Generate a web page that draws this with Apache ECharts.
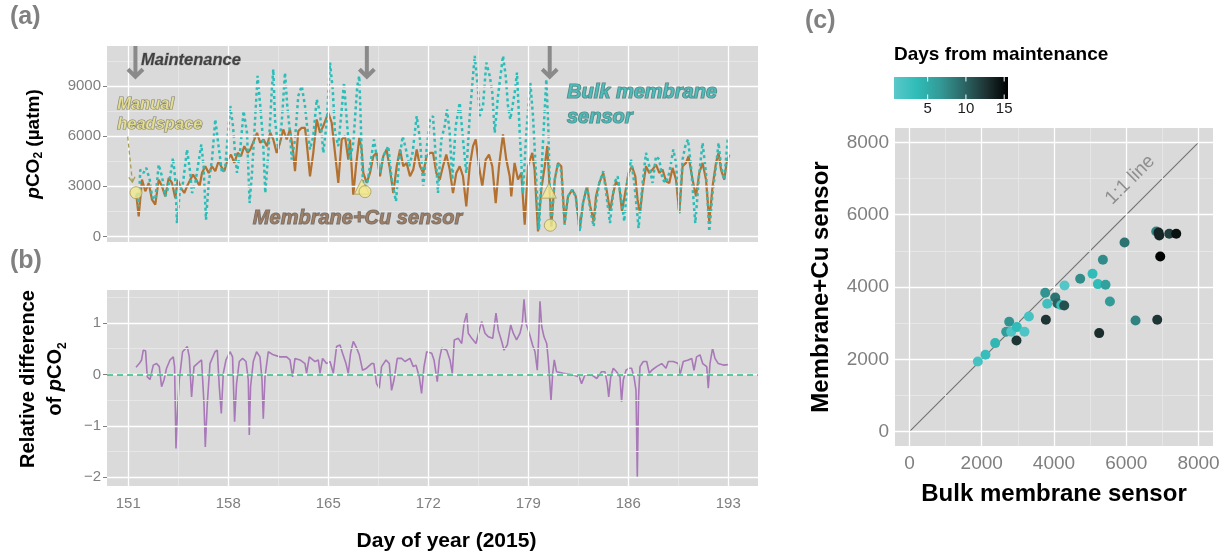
<!DOCTYPE html>
<html><head><meta charset="utf-8">
<script src="https://cdn.jsdelivr.net/npm/echarts@6.0.0/dist/echarts.min.js"></script>
<style>html,body{margin:0;padding:0;background:#fff}#c{width:1223px;height:554px}</style>
</head><body><div id="c"></div>
<script>
// ---------- data ----------
const dayTicks = [151,158,165,172,179,186,193];
const dayMinor = [154.5,161.5,168.5,175.5,182.5,189.5];
const pco2Ticks = [0,3000,6000,9000];
const pco2Minor = [1500,4500,7500,10500];
const diffTicks = [-2,-1,0,1];
const diffMinor = [-1.5,-0.5,0.5,1.5];
const scatTicks = [0,2000,4000,6000,8000];
const scatMinor = [1000,3000,5000,7000];
const cbTicks = [5,10,15];

// Membrane+Cu sensor [day, pCO2]
const cuSeries = [[151.56,2500],[151.73,1200],[151.96,3400],[152.19,2700],[152.43,3200],[152.66,2200],[152.89,1900],[153.13,3400],[153.36,3000],[153.59,2400],[153.83,3500],[154.06,3200],[154.29,2300],[154.46,3400],[154.69,2900],[154.92,2600],[155.11,3000],[155.34,3400],[155.53,3700],[155.76,3400],[155.99,3000],[156.16,3800],[156.39,4200],[156.63,3800],[156.86,4200],[157.09,3900],[157.32,4500],[157.56,4100],[157.72,3900],[157.96,4600],[158.19,4900],[158.42,4400],[158.66,5000],[158.89,4800],[159.12,5400],[159.36,5000],[159.54,5200],[159.78,5700],[160.01,6200],[160.24,5600],[160.47,5800],[160.71,5400],[160.94,6200],
[161.15,5800],[161.39,5000],[161.62,5600],[161.85,6400],[162.09,5800],[162.32,6400],[162.55,5000],[162.67,3900],[162.90,6300],[163.14,6500],[163.37,6500],[163.49,5600],[163.72,3600],[163.95,5000],[164.19,7000],[164.42,6200],[164.65,6600],[165.00,7400],[165.24,6800],[165.47,5000],[165.70,3200],[165.94,5800],[166.17,6000],[166.40,4600],[166.52,5800],[166.75,2500],[166.94,4200],[167.17,5900],[167.34,5200],[167.45,3800],[167.69,3200],[167.92,3800],[168.15,4800],[168.38,5000],[168.62,3600],[168.85,4800],[169.08,5200],[169.32,4000],[169.55,2600],[169.79,4200],[170.02,5200],[170.25,4200],[170.48,4400],[170.72,3600],[170.95,4000],[171.19,5200],[171.42,4200],[171.65,3800],[171.88,4800],[172.12,5000],
[172.33,5000],[172.56,3800],[172.80,3400],[173.03,4200],[173.26,4900],[173.50,4000],[173.73,2600],[173.96,3800],[174.20,4200],[174.43,3600],[174.66,1800],[174.90,4200],[175.13,5400],[175.32,5800],[175.55,4200],[175.78,3000],[176.02,4600],[176.25,4900],[176.48,4200],[176.72,2000],[176.95,4200],[177.23,6100],[177.46,4600],[177.70,3600],[177.81,2400],[178.04,4400],[178.28,3400],[178.51,3800],[178.75,700],[178.98,4200],[179.28,5000],[179.44,4000],[179.68,300],[179.91,2800],[180.15,4200],[180.33,5400],[180.45,3600],[180.61,600],[180.85,3400],[181.08,4400],[181.31,4200],[181.54,800],[181.78,2400],[182.08,2800],[182.32,2400],[182.60,400],[182.83,2000],[183.11,3000],[183.34,1800],[183.58,900],
[183.74,2400],[183.97,3200],[184.25,3800],[184.48,2800],[184.72,1500],[184.90,2400],[185.14,3300],[185.37,3000],[185.56,1500],[185.74,2400],[186.02,3800],[186.26,4200],[186.49,3600],[186.65,2200],[186.82,1400],[187.00,2800],[187.24,4200],[187.47,3800],[187.70,4000],[187.94,4300],[188.17,3800],[188.40,4000],[188.64,3300],[188.87,3200],[189.10,4100],[189.34,3400],[189.57,1400],[189.80,4200],[190.04,4400],[190.22,4800],[190.50,3400],[190.74,2400],[190.97,3800],[191.20,4400],[191.44,3400],[191.67,900],[191.90,3000],[192.14,4400],[192.32,5000],[192.49,4000],[192.72,3400],[192.88,4400],[193.07,4900]];

// Bulk membrane sensor [day, pCO2]
const bulkSeries = [[151.62,2600],[151.73,1800],[151.84,4000],[152.07,3800],[152.26,4100],[152.50,3400],[152.66,2400],[152.89,2200],[153.13,4300],[153.36,3600],[153.59,2400],[153.83,3000],[154.13,4700],[154.29,3400],[154.41,800],[154.60,2600],[154.83,3200],[155.11,5200],[155.34,3800],[155.46,2600],[155.69,3200],[156.11,5500],[156.27,4200],[156.44,1000],[156.63,3200],[156.86,4600],[157.09,7000],[157.32,5400],[157.56,3800],[157.79,4200],[158.14,7800],[158.33,6600],[158.49,4800],[158.61,3800],[158.84,5200],[159.07,7500],[159.31,6200],[159.49,2000],[159.66,3800],[159.89,7200],[160.05,9600],[160.24,7800],[160.43,5800],[160.59,2600],[160.82,5200],[161.05,8800],
[161.15,10000],[161.27,7000],[161.50,5200],[161.74,6800],[161.97,9800],[162.13,7800],[162.32,6200],[162.44,4600],[162.67,5800],[162.90,8400],[163.14,9000],[163.37,7800],[163.49,6800],[163.72,5200],[163.95,6000],[164.19,8200],[164.42,7400],[164.65,5000],[164.89,6800],[165.12,10400],[165.31,8800],[165.47,6200],[165.70,5400],[165.94,7600],[166.10,9200],[166.29,7000],[166.52,4600],[166.75,5600],[167.03,9000],[167.17,9600],[167.27,7000],[167.36,4200],[167.45,3100],[167.69,3000],[167.92,4200],[168.20,5800],[168.38,4800],[168.62,3800],[168.85,4800],[169.20,5400],[169.44,3400],[169.74,2100],[169.97,4600],[170.21,6000],[170.44,5200],[170.67,4200],[170.90,5000],[171.19,7200],[171.42,5800],[171.65,3000],[171.88,5200],[172.12,7000],
[172.33,7200],[172.52,4800],[172.68,2600],[172.91,5800],[173.15,6600],[173.31,7600],[173.50,6200],[173.68,3400],[173.92,6600],[174.20,8000],[174.43,5800],[174.66,3800],[174.90,7200],[175.13,9600],[175.25,10800],[175.48,8800],[175.60,7200],[175.83,7800],[176.06,10400],[176.30,9600],[176.48,8600],[176.65,6200],[176.88,8400],[177.23,10800],[177.42,9600],[177.58,7800],[177.74,7000],[178.05,8600],[178.21,9800],[178.40,6200],[178.63,2600],[178.86,6200],[179.14,9200],[179.33,7200],[179.56,3400],[179.75,400],[179.98,4800],[180.26,9400],[180.40,6600],[180.50,3200],[180.61,600],
[180.85,3400],[181.08,4400],[181.31,3900],[181.54,700],[181.78,2400],[182.08,2800],[182.32,2400],[182.60,300],[182.83,2000],[183.11,3000],[183.34,1600],[183.58,600],
[183.74,2000],[183.97,3200],[184.25,3900],[184.48,2400],[184.72,800],[185.02,3200],[185.25,3600],[185.49,2400],[185.72,900],[185.95,3400],[186.19,4600],[186.42,3200],[186.58,1800],[186.72,500],[187.00,3200],[187.24,5000],[187.47,4200],[187.70,3200],[187.94,4800],[188.17,4600],[188.40,3400],[188.64,3200],[188.87,3800],[189.15,5200],[189.34,4400],[189.57,1400],[189.80,4600],[189.99,5400],[190.18,5800],[190.39,4200],[190.69,800],[190.97,3800],[191.20,5600],[191.44,3800],[191.67,300],[191.90,2600],[192.14,4200],[192.32,5600],[192.49,4200],[192.72,3400],[192.96,5800]];

// Relative difference of pCO2 [day, value]
const relDiff = [[151.54,0.14],[151.77,0.21],[151.93,0.28],[152.05,0.47],[152.21,0.46],[152.33,-0.05],[152.52,-0.10],[152.75,0.18],[152.98,0.21],[153.17,0.15],[153.33,-0.24],[153.50,-0.11],[153.68,0.12],[153.92,0.28],[154.15,0.34],[154.24,0.15],[154.34,-1.44],[154.43,-0.76],[154.57,-0.11],[154.80,0.44],[155.13,0.54],[155.27,0.34],[155.43,-0.44],[155.60,0.15],[155.83,0.21],[156.13,0.28],[156.30,-0.57],[156.39,-1.41],[156.53,-0.57],[156.72,0.21],[157.07,0.44],[157.23,0.47],[157.37,-0.24],[157.51,-0.76],[157.65,0.02],[157.84,0.28],[158.12,0.44],[158.30,0.34],[158.44,-0.92],[158.58,-0.18],[158.77,0.25],[159.00,0.31],[159.24,0.25],[159.40,-0.11],[159.47,-1.18],[159.56,-0.24],[159.75,0.25],[159.98,0.44],[160.22,0.34],[160.36,-0.11],[160.45,-0.86],[160.57,-0.05],[160.80,0.44],[161.15,0.38],[161.62,0.34],[162.08,0.34],[162.32,0.28],[162.50,-0.05],[162.67,0.31],[163.02,0.28],[163.37,0.21],[163.48,0.02],[163.67,0.34],[164.07,0.25],[164.30,0.28],[164.42,0.02],[164.60,0.31],[164.88,0.21],[165.12,0.25],[165.35,0.02],[165.58,0.54],[165.82,0.57],[166.00,0.41],[166.24,0.21],[166.40,0.02],[166.56,0.41],[166.75,0.64],[166.94,0.54],[167.17,0.38],[167.40,0.08],[167.68,0.12],[168.03,0.21],[168.19,0.21],[168.38,-0.18],[168.57,-0.27],[168.73,0.15],[169.04,0.28],[169.27,0.21],[169.43,-0.31],[169.60,-0.11],[169.83,0.31],[170.13,0.31],[170.37,0.25],[170.72,0.31],[170.95,0.15],[171.14,0.18],[171.37,-0.05],[171.53,-0.37],[171.70,0.15],[171.89,0.44],[172.24,0.41],[172.40,0.28],[172.54,0.02],[172.63,-0.14],[172.77,0.28],[172.94,0.51],[173.29,0.47],[173.52,0.28],[173.68,0.02],[173.82,0.67],[174.10,0.70],[174.34,0.60],[174.50,0.99],[174.69,1.19],[174.80,0.80],[175.04,0.70],[175.34,0.60],[175.57,0.86],[175.74,1.03],[175.97,0.80],[176.20,0.73],[176.51,0.70],[176.74,1.19],[176.90,0.86],[177.14,0.64],[177.30,0.47],[177.53,0.57],[177.77,0.96],[177.95,0.80],[178.18,0.67],[178.42,0.80],[178.58,0.99],[178.70,1.46],[178.84,0.99],[179.07,0.80],[179.30,0.57],[179.47,0.44],[179.63,0.08],[179.72,0.67],[179.82,1.42],[179.94,0.93],[180.10,0.73],[180.29,0.60],[180.40,0.28],[180.52,0.28],[180.59,-0.50],[180.71,0.02],[180.82,0.28],[180.98,0.05],[181.45,0.02],[182.15,-0.01],[182.57,-0.05],[182.73,-0.18],[182.97,-0.01],[183.44,-0.01],[183.79,-0.08],[184.13,0.05],[184.37,0.05],[184.53,-0.18],[184.63,-0.44],[184.77,-0.05],[184.95,0.12],[185.18,0.05],[185.42,-0.05],[185.53,-0.53],[185.65,-0.11],[185.84,0.08],[186.07,0.12],[186.23,0.12],[186.40,-0.05],[186.54,-0.31],[186.63,-2.0],[186.72,-0.44],[186.82,0.15],[187.05,0.25],[187.29,0.25],[187.47,0.02],[187.64,0.08],[187.98,0.15],[188.34,0.21],[188.64,0.12],[188.80,0.25],[189.15,0.25],[189.50,0.21],[189.62,-0.01],[189.85,0.25],[190.20,0.28],[190.44,0.31],[190.60,0.08],[190.78,0.34],[191.02,0.38],[191.21,0.21],[191.49,0.15],[191.60,-0.27],[191.72,0.21],[191.90,0.51],[192.07,0.31],[192.30,0.21],[192.65,0.18],[193.00,0.19]];

// maintenance arrows [day, top pCO2, tip pCO2]
const maintenance = [[151.5,11390,9460],[167.7,11390,9460],[180.5,11390,9460]];
// manual headspace measurements
const headCircles = [[151.54,2620],[167.57,2680],[180.54,670]];
const headTriangles = [[167.35,2980],[180.44,2740]];
const headArrow = [[150.96,5968,151.29,3250]];

// scatter: [bulk, membrane+Cu, days from maintenance]
const scatterPts = [[1893,1938,2],[2104,2123,3],[2372,2447,4],[2760,3037,7],[2677,2760,6.5],[2815,2760,1.5],[2972,2890,3.5],[3184,2760,1.5],[2962,2519,12.5],[3305,3184,2],[3757,3840,7],[3812,3535,2.5],[3775,3092,12.5],[4033,3710,9],[4097,3543,10],[4200,3499,3],[4283,3488,11],[4291,4042,1],[4725,4227,7.5],[5066,4365,3.5],[5215,4080,3.5],[5426,4061,6],[5547,3599,6.5],[5251,2724,13],[6256,3073,8],[6857,3092,12.5],[5952,5232,9],[5353,4753,7.5],[6829,5536,8],[6893,5509,13.5],[6912,5426,13.5],[7189,5473,12],[7383,5473,14.5],[6940,4845,15.3]];
const oneToOne = [[0,0],[8000,8000]];
const dayColors = ['#5ac8ca','#2fbcb8','#339b98','#2c6a69','#1f3535','#000000'];
const dayRange = [0.6, 15.5];

// ---------- styling ----------
const FONT = "'Liberation Sans', Arial, Helvetica, sans-serif";
const GRAY = '#7f7f7f';
const BG = '#dadada';
const minorStyle = {color:'#e6e6e6', width:1, type:'solid'};
const majorStyle = {color:'#ffffff', width:1.3, type:'solid'};

function rich(fs, lh) {
  return {
    b: {fontFamily: FONT, fontSize: fs, fontWeight: 'bold', color: '#000', lineHeight: lh},
    i: {fontFamily: FONT, fontSize: fs, fontWeight: 'bold', fontStyle: 'italic', color: '#000', lineHeight: lh},
    s: {fontFamily: FONT, fontSize: Math.round(fs * 0.62), fontWeight: 'bold', color: '#000', verticalAlign: 'bottom', lineHeight: Math.round(fs*0.62)+2}
  };
}

function gridLineSeries(idx, xMinor, xMajor, yMinor, yMajor, anchor) {
  const d = [];
  xMinor.forEach(v => d.push({xAxis: v, lineStyle: minorStyle}));
  yMinor.forEach(v => d.push({yAxis: v, lineStyle: minorStyle}));
  xMajor.forEach(v => d.push({xAxis: v, lineStyle: majorStyle}));
  yMajor.forEach(v => d.push({yAxis: v, lineStyle: majorStyle}));
  return {type: 'line', xAxisIndex: idx, yAxisIndex: idx, data: [anchor], showSymbol: false,
    lineStyle: {opacity: 0}, silent: true, z: 1,
    markLine: {silent: true, symbol: ['none','none'], label: {show: false}, animation: false, data: d}};
}

const tickStyle = {show: true, length: 4, lineStyle: {color: GRAY, width: 1}};
const plain = v => (v < 0 ? '\u2212' + Math.abs(v) : String(v));

const chart = echarts.init(document.getElementById('c'), null, {renderer: 'canvas'});

const cbLeft = 894, cbTop = 77, cbW = 114, cbH = 22;
const cbGraphics = [
  {type: 'rect', left: cbLeft, top: cbTop, shape: {width: cbW, height: cbH},
   style: {fill: new echarts.graphic.LinearGradient(0, 0, 1, 0, dayColors.map((c, i) => ({offset: i / (dayColors.length - 1), color: c})))}}
];
cbTicks.forEach(t => {
  const x = cbLeft + (t - dayRange[0]) / (dayRange[1] - dayRange[0]) * cbW;
  cbGraphics.push({type: 'line', shape: {x1: x, y1: cbTop, x2: x, y2: cbTop + 4.5}, style: {stroke: '#fff', lineWidth: 1}});
  cbGraphics.push({type: 'line', shape: {x1: x, y1: cbTop + cbH - 4.5, x2: x, y2: cbTop + cbH}, style: {stroke: '#fff', lineWidth: 1}});
  cbGraphics.push({type: 'text', x: x, y: cbTop + cbH + 2, style: {text: String(t), font: '15px ' + FONT, fill: '#1a1a1a', textAlign: 'center', textVerticalAlign: 'top'}});
});

function annot(x, y, text, st) {
  return {value: [x, y], label: Object.assign({show: true, formatter: text, position: 'inside', align: 'left', verticalAlign: 'middle',
    fontFamily: FONT, fontWeight: 'bold', fontStyle: 'italic'}, st)};
}

const option = {
  animation: false,
  backgroundColor: '#fff',
  grid: [
    {left: 107, top: 46, width: 651, height: 196, show: true, backgroundColor: BG, borderWidth: 0},
    {left: 107, top: 290, width: 651, height: 196, show: true, backgroundColor: BG, borderWidth: 0},
    {left: 895, top: 128, width: 318, height: 318, show: true, backgroundColor: BG, borderWidth: 0}
  ],
  xAxis: [
    {type: 'value', gridIndex: 0, min: 149.51, max: 195.08, axisLine: {show: false},
     axisTick: Object.assign({customValues: dayTicks}, tickStyle), axisLabel: {show: false, customValues: dayTicks}, splitLine: {show: false}},
    {type: 'value', gridIndex: 1, min: 149.51, max: 195.08, axisLine: {show: false},
     axisTick: Object.assign({customValues: dayTicks}, tickStyle),
     axisLabel: {customValues: dayTicks, color: GRAY, fontSize: 15, fontFamily: FONT, margin: 10, formatter: plain}, splitLine: {show: false},
     name: 'Day of year (2015)', nameLocation: 'middle', nameGap: 45,
     nameTextStyle: {fontFamily: FONT, fontSize: 21, fontWeight: 'bold', color: '#000', padding: [0, 0, 0, 28]}},
    {type: 'value', gridIndex: 2, min: -400, max: 8400, axisLine: {show: false},
     axisTick: Object.assign({customValues: scatTicks}, tickStyle),
     axisLabel: {customValues: scatTicks, color: GRAY, fontSize: 19, fontFamily: FONT, margin: 8, formatter: plain}, splitLine: {show: false},
     name: 'Bulk membrane sensor', nameLocation: 'middle', nameGap: 36,
     nameTextStyle: {fontFamily: FONT, fontSize: 24, fontWeight: 'bold', color: '#000'}}
  ],
  yAxis: [
    {type: 'value', gridIndex: 0, min: -330, max: 11390, axisLine: {show: false},
     axisTick: Object.assign({customValues: pco2Ticks}, tickStyle),
     axisLabel: {customValues: pco2Ticks, color: GRAY, fontSize: 15, fontFamily: FONT, margin: 6, formatter: plain}, splitLine: {show: false},
     name: '{i|p}{b|CO}{s|2}{b| (\u00b5atm)}', nameLocation: 'middle', nameRotate: 90, nameGap: 62,
     nameTextStyle: {rich: rich(19, 23)}},
    {type: 'value', gridIndex: 1, min: -2.17, max: 1.64, axisLine: {show: false},
     axisTick: Object.assign({customValues: diffTicks}, tickStyle),
     axisLabel: {customValues: diffTicks, color: GRAY, fontSize: 15, fontFamily: FONT, margin: 6, formatter: plain}, splitLine: {show: false},
     name: '{b|Relative difference}\n{b|of }{i|p}{b|CO}{s|2}', nameLocation: 'middle', nameRotate: 90, nameGap: 38,
     nameTextStyle: {rich: rich(20, 27), padding: [0, 0, 0, 18]}},
    {type: 'value', gridIndex: 2, min: -400, max: 8400, axisLine: {show: false},
     axisTick: Object.assign({customValues: scatTicks}, tickStyle),
     axisLabel: {customValues: scatTicks, color: GRAY, fontSize: 19, fontFamily: FONT, margin: 6, formatter: plain}, splitLine: {show: false},
     name: 'Membrane+Cu sensor', nameLocation: 'middle', nameRotate: 90, nameGap: 62,
     nameTextStyle: {fontFamily: FONT, fontSize: 24, fontWeight: 'bold', color: '#000'}}
  ],
  visualMap: [{type: 'continuous', show: false, seriesIndex: 9, dimension: 2, min: dayRange[0], max: dayRange[1], inRange: {color: dayColors}}],
  series: [
    gridLineSeries(0, dayMinor, dayTicks, pco2Minor, pco2Ticks, [150, 0]),        //0
    gridLineSeries(1, dayMinor, dayTicks, diffMinor, diffTicks, [150, 0]),        //1
    gridLineSeries(2, scatMinor, scatTicks, scatMinor, scatTicks, [0, 0]),        //2
    {type: 'line', xAxisIndex: 0, yAxisIndex: 0, data: cuSeries, showSymbol: false, z: 3,
     lineStyle: {color: '#b3702f', width: 2.2}},                                    //3
    {type: 'line', xAxisIndex: 0, yAxisIndex: 0, data: bulkSeries, showSymbol: false, z: 4,
     lineStyle: {color: '#2cbdb9', width: 2.5, type: [3, 3]}},                      //4
    {type: 'custom', xAxisIndex: 0, yAxisIndex: 0, data: maintenance, z: 5, silent: true,
     renderItem: (p, api) => {
       const a = api.coord([api.value(0), api.value(1)]);
       const b = api.coord([api.value(0), api.value(2)]);
       return {type: 'group', children: [
         {type: 'line', shape: {x1: a[0], y1: a[1], x2: b[0], y2: b[1] - 2}, style: {stroke: '#8a8a8a', lineWidth: 4}},
         {type: 'polyline', shape: {points: [[b[0] - 7.5, b[1] - 9], [b[0], b[1] - 1.5], [b[0] + 7.5, b[1] - 9]]},
          style: {stroke: '#8a8a8a', lineWidth: 4, fill: null, lineJoin: 'miter'}}
       ]};
     }},                                                                             //5
    {type: 'custom', xAxisIndex: 0, yAxisIndex: 0, data: headArrow, z: 5, silent: true,
     renderItem: (p, api) => {
       const a = api.coord([api.value(0), api.value(1)]);
       const b = api.coord([api.value(2), api.value(3)]);
       const ang = Math.atan2(b[1] - a[1], b[0] - a[0]);
       const L = 6, w = 0.55;
       const p1 = [b[0] - L * Math.cos(ang - w), b[1] - L * Math.sin(ang - w)];
       const p2 = [b[0] - L * Math.cos(ang + w), b[1] - L * Math.sin(ang + w)];
       return {type: 'group', children: [
         {type: 'line', shape: {x1: a[0], y1: a[1], x2: b[0], y2: b[1]}, style: {stroke: '#a59f56', lineWidth: 1.3, lineDash: [4, 3]}},
         {type: 'polyline', shape: {points: [p1, b, p2]}, style: {stroke: '#a59f56', lineWidth: 1.3, fill: null}}
       ]};
     }},                                                                             //6
    {type: 'scatter', xAxisIndex: 0, yAxisIndex: 0, data: headTriangles, symbol: 'triangle', symbolSize: 15, z: 6,
     itemStyle: {color: '#f3e78e', borderColor: '#a99c55', borderWidth: 1}},        //7
    {type: 'scatter', xAxisIndex: 0, yAxisIndex: 0, data: headCircles, symbol: 'circle', symbolSize: 12, z: 6,
     itemStyle: {color: '#f3e78e', borderColor: '#a99c55', borderWidth: 1}},        //8
    {type: 'scatter', xAxisIndex: 2, yAxisIndex: 2, data: scatterPts, symbolSize: 10, z: 6,
     itemStyle: {opacity: 1}},                                                       //9
    {type: 'line', xAxisIndex: 2, yAxisIndex: 2, data: oneToOne, showSymbol: false, z: 3,
     lineStyle: {color: '#707070', width: 1.1}},                                     //10
    {type: 'line', xAxisIndex: 1, yAxisIndex: 1, data: relDiff, showSymbol: false, z: 3,
     lineStyle: {color: '#a878b8', width: 1.6}},                                     //11
    {type: 'line', xAxisIndex: 1, yAxisIndex: 1, data: [[150, 0]], showSymbol: false, lineStyle: {opacity: 0}, silent: true, z: 4,
     markLine: {silent: true, symbol: ['none', 'none'], label: {show: false}, data: [{yAxis: 0, lineStyle: {color: '#2ebd7e', width: 1.5, type: [6, 4]}}]}}, //12
    {type: 'scatter', xAxisIndex: 0, yAxisIndex: 0, symbolSize: 1, z: 7, silent: true, itemStyle: {color: 'rgba(0,0,0,0)'},
     data: [
       annot(151.89, 10555, 'Maintenance', {fontSize: 16.5, color: '#1e1e1e', textBorderColor: '#a8a8a8', textBorderWidth: 1}),
       annot(150.22, 7325, 'Manual\nheadspace', {fontSize: 16.5, lineHeight: 20, color: '#ece48a', textBorderColor: '#6b6b5a', textBorderWidth: 1.2}),
       annot(181.71, 7834, 'Bulk membrane\nsensor', {fontSize: 20, lineHeight: 25, color: '#35b4b1', textBorderColor: '#3d6f6d', textBorderWidth: 1.2}),
       annot(159.72, 1106, 'Membrane+Cu sensor', {fontSize: 20, color: '#8e6a4e', textBorderColor: '#5a5a5a', textBorderWidth: 1})
     ]},                                                                             //13
    {type: 'scatter', xAxisIndex: 2, yAxisIndex: 2, symbolSize: 1, z: 7, silent: true, itemStyle: {color: 'rgba(0,0,0,0)'},
     data: [{value: [6109, 6962], label: {show: true, formatter: '1:1 line', position: 'inside', rotate: 45, fontFamily: FONT, fontSize: 19, color: '#7a7a7a'}}]} //14
  ],
  graphic: [
    {type: 'text', left: 10, top: 5, style: {text: '(a)', font: 'bold 25px ' + FONT, fill: '#808080'}},
    {type: 'text', left: 10, top: 249, style: {text: '(b)', font: 'bold 25px ' + FONT, fill: '#808080'}},
    {type: 'text', left: 805, top: 9, style: {text: '(c)', font: 'bold 25px ' + FONT, fill: '#808080'}},
    {type: 'text', left: 894, top: 45, style: {text: 'Days from maintenance', font: 'bold 19px ' + FONT, fill: '#000'}},
    {type: 'group', children: cbGraphics}
  ]
};
chart.setOption(option);
</script></body></html>
